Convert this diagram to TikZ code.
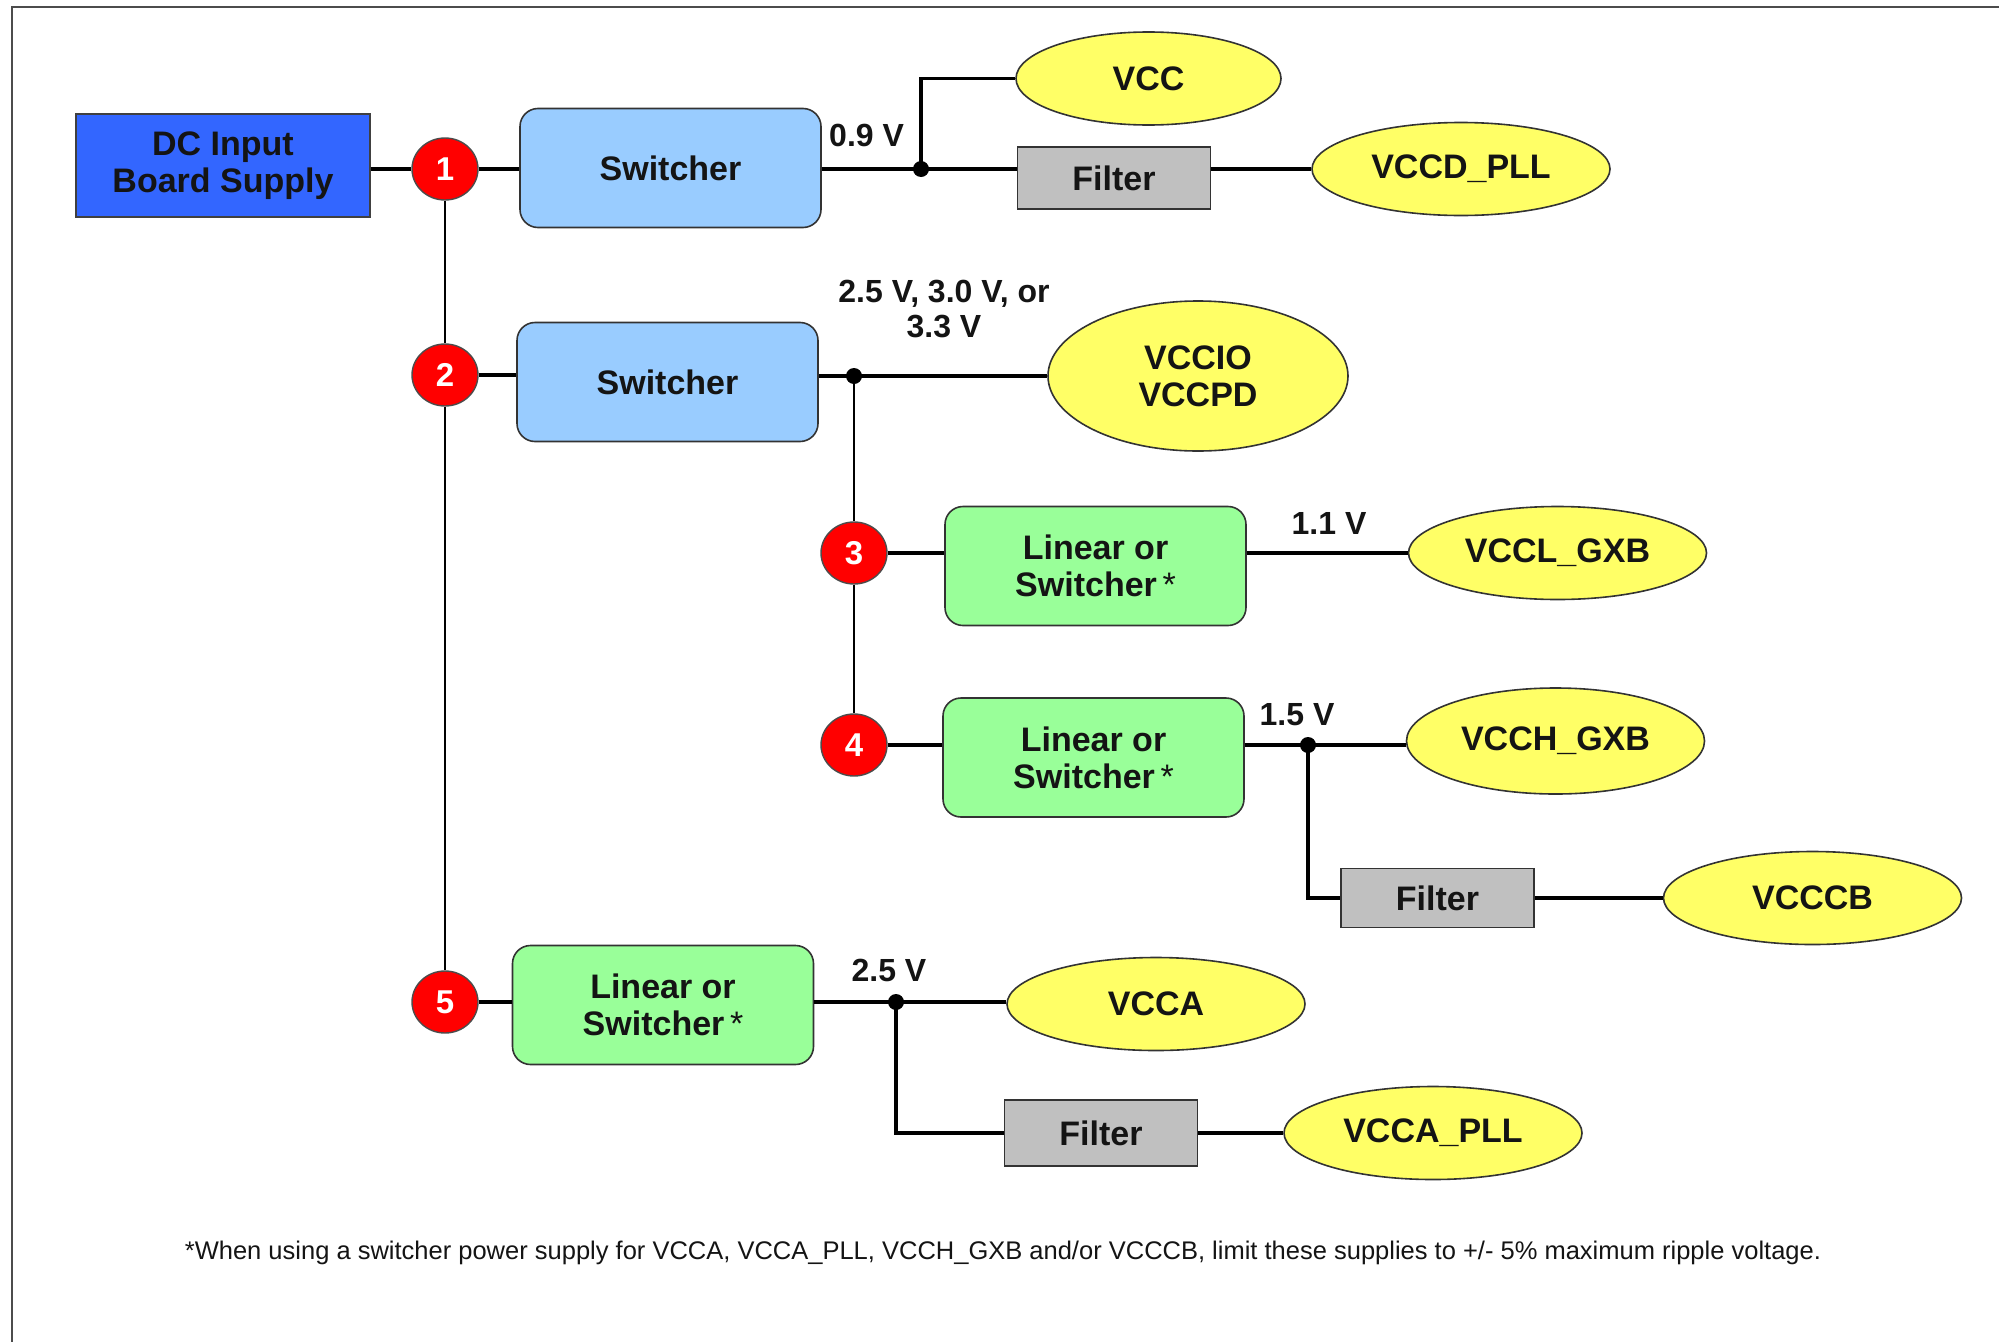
\documentclass[tikz,border=0pt]{standalone}
\usepackage{fontspec}
\setmainfont{Liberation Sans}
\usetikzlibrary{shapes.geometric,calc}
\definecolor{dcblue}{HTML}{3366FF}
\definecolor{swblue}{HTML}{99CCFF}
\definecolor{lingreen}{HTML}{99FF99}
\definecolor{filtgray}{HTML}{C0C0C0}
\definecolor{vyellow}{HTML}{FFFF66}
\definecolor{numred}{HTML}{FF0000}
\definecolor{txtdark}{HTML}{141414}
\tikzset{
  conn/.style={line width=3.4pt, black},
  vline/.style={line width=2.8pt, black},
  boxtext/.style={font=\fontsize{34}{37}\selectfont\bfseries, text=txtdark, align=center, inner sep=0pt},
  dcbox/.style={boxtext, draw=black!75, line width=1.6pt, fill=dcblue, minimum width=294pt, minimum height=103pt},
  swbox/.style={boxtext, draw=black!80, line width=1.6pt, fill=swblue, rounded corners=18pt, minimum width=301pt, minimum height=119pt},
  linbox/.style={boxtext, draw=black!80, line width=1.6pt, fill=lingreen, rounded corners=18pt, minimum width=301pt, minimum height=119pt},
  filtbox/.style={boxtext, draw=black!80, line width=1.6pt, fill=filtgray, minimum width=193pt, minimum height=62pt},
  supply/.style={boxtext, ellipse, draw=black!80, line width=1.6pt, fill=vyellow, minimum width=298pt, minimum height=93pt},
  numc/.style={ellipse, draw=black!70, line width=1.4pt, fill=numred, text=white, font=\fontsize{33}{33}\selectfont\bfseries, inner sep=0pt, minimum width=66pt, minimum height=62pt},
  volt/.style={font=\fontsize{32}{35}\selectfont\bfseries, text=txtdark, align=center, inner sep=0pt},
  dot/.style={circle, fill=black, inner sep=0pt, minimum size=16pt},
}
\begin{document}
\begin{tikzpicture}[x=1pt,y=-1pt]
\useasboundingbox (0,0) rectangle (1999,1341);
\fill[white] (0,0) rectangle (1999,1341);
% frame
\draw[line width=2pt, black!70] (11.5,1345) -- (11.5,6.7) -- (2005,6.7);

% nodes
\node[dcbox] (dc) at (223,165.5) {DC Input\\Board Supply};
\node[numc] (c1) at (445,169) {1};
\node[swbox] (sw1) at (670.5,168) {Switcher};
\node[dot] (j1) at (921,169) {};
\node[supply, minimum width=265pt] (vcc) at (1148.5,78.5) {VCC};
\node[filtbox] (f1) at (1114,178) {Filter};
\node[supply] (vccdpll) at (1461,169) {VCCD\_PLL};

\node[numc] (c2) at (445,375) {2};
\node[swbox] (sw2) at (667.5,382) {Switcher};
\node[dot] (j2) at (854,376) {};
\node[supply, minimum width=300pt, minimum height=150pt] (vccio) at (1198,376) {VCCIO\\VCCPD};

\node[numc] (c3) at (854,553) {3};
\node[linbox] (lin3) at (1095.5,566) {Linear or\\Switcher\,\textmd{*}};
\node[supply] (vcclgxb) at (1557.5,553) {VCCL\_GXB};

\node[numc] (c4) at (854,745) {4};
\node[linbox] (lin4) at (1093.5,757.5) {Linear or\\Switcher\,\textmd{*}};
\node[dot] (j4) at (1308,745) {};
\node[supply, minimum height=106pt] (vcchgxb) at (1555.5,741) {VCCH\_GXB};
\node[filtbox, minimum height=59pt] (f3) at (1437.5,898) {Filter};
\node[supply] (vcccb) at (1812.5,898) {VCCCB};

\node[numc] (c5) at (445,1002) {5};
\node[linbox] (lin5) at (663,1005) {Linear or\\Switcher\,\textmd{*}};
\node[dot] (j5) at (896,1002) {};
\node[supply] (vcca) at (1156,1004) {VCCA};
\node[filtbox, minimum height=66pt] (f4) at (1101,1133) {Filter};
\node[supply] (vccapll) at (1433,1133) {VCCA\_PLL};

% voltage labels
\node[volt, anchor=west] (l09) at (829,135) {0.9 V};
\node[volt] (l25a) at (944,309) {2.5 V, 3.0 V, or\\3.3 V};
\node[volt] (l11) at (1329,523) {1.1 V};
\node[volt] (l15) at (1297,715) {1.5 V};
\node[volt] (l25b) at (889,970) {2.5 V};

% footnote
\node[font=\fontsize{25.5}{29}\selectfont, text=txtdark, inner sep=0pt] (foot) at (1003,1253) {*When using a switcher power supply for VCCA, VCCA\_PLL, VCCH\_GXB and/or VCCCB, limit these supplies to +/- 5\% maximum ripple voltage.};

% connectors
\draw[conn] (c1 -| dc.east) -- (c1.west);
\draw[conn] (c1.east) -- (c1 -| sw1.west);
\draw[conn] (j1 -| sw1.east) -- (j1.center) -- (j1 -| f1.west);
\draw[conn] (j1.center) |- (vcc.west);
\draw[conn] (f1.east |- vccdpll) -- (vccdpll.west);

\draw[vline] (c1.south) -- (c2.north);
\draw[vline] (c2.south) -- (c5.north);

\draw[conn] (c2.east) -- (c2 -| sw2.west);
\draw[conn] (j2 -| sw2.east) -- (j2.center) -- (j2 -| vccio.west);
\draw[vline] (j2.center) -- (c3.north);
\draw[vline] (c3.south) -- (c4.north);

\draw[conn] (c3.east) -- (c3 -| lin3.west);
\draw[conn] (c3 -| lin3.east) -- (vcclgxb.west);

\draw[conn] (c4.east) -- (c4 -| lin4.west);
\draw[conn] (c4 -| lin4.east) -- (j4.center) -- (j4 -| vcchgxb.west);
\draw[conn] (j4.center) |- (f3.west);
\draw[conn] (f3.east) -- (vcccb.west);

\draw[conn] (c5.east) -- (c5 -| lin5.west);
\draw[conn] (c5 -| lin5.east) -- (j5.center) -- (j5 -| vcca.west);
\draw[conn] (j5.center) |- (f4.west);
\draw[conn] (f4.east) -- (vccapll.west);
\end{tikzpicture}
\end{document}
